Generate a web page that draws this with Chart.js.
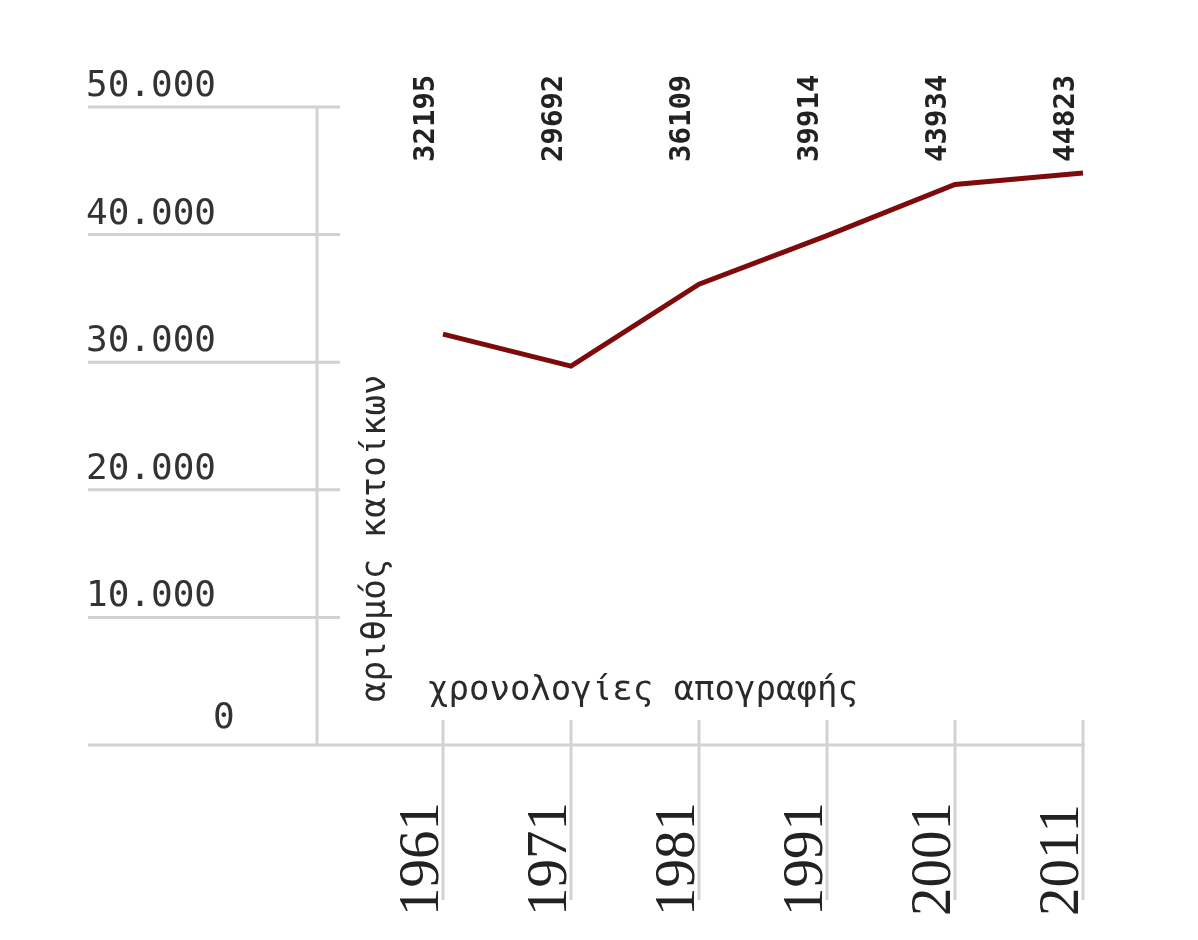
<!DOCTYPE html>
<html>
<head>
<meta charset="utf-8">
<script src="https://cdn.jsdelivr.net/npm/chart.js@4"></script>
<style>
html,body{margin:0;padding:0;background:#fff;}
#wrap{width:1198px;height:940px;}
</style>
</head>
<body>
<div id="wrap"><canvas id="c" width="1198" height="940"></canvas></div>
<script>
const years = ['1961','1971','1981','1991','2001','2011'];
const population = [32195, 29692, 36109, 39914, 43934, 44823];
const yTickValues = [0, 10000, 20000, 30000, 40000, 50000];
const yTickLabels = ['0', '10.000', '20.000', '30.000', '40.000', '50.000'];
const xTitle = 'χρονολογίες απογραφής';
const yTitle = 'αριθμός κατοίκων';

const GRID = '#d2d2d2';
const TEXT = '#333333';

const decor = {
  id: 'decor',
  beforeDatasetsDraw(chart) {
    const ctx = chart.ctx;
    const xs = chart.scales.x, ys = chart.scales.y;
    ctx.save();
    ctx.strokeStyle = GRID;
    ctx.lineWidth = 3;
    yTickValues.forEach(v => {
      const y = ys.getPixelForValue(v);
      ctx.beginPath();
      ctx.moveTo(88, y);
      ctx.lineTo(v === 0 ? xs.getPixelForValue(years.length - 1) + 2 : 340, y);
      ctx.stroke();
    });
    ctx.beginPath();
    ctx.moveTo(317, ys.getPixelForValue(50000));
    ctx.lineTo(317, ys.getPixelForValue(0));
    ctx.stroke();
    years.forEach((yr, i) => {
      const x = xs.getPixelForValue(i);
      ctx.beginPath();
      ctx.moveTo(x, ys.getPixelForValue(0) - 25);
      ctx.lineTo(x, ys.getPixelForValue(0) + 155);
      ctx.stroke();
    });
    ctx.fillStyle = TEXT;
    ctx.font = '36px "DejaVu Sans Mono"';
    ctx.textBaseline = 'alphabetic';
    yTickValues.forEach((v, i) => {
      const y = ys.getPixelForValue(v);
      ctx.textAlign = 'left';
      if (v === 0) ctx.fillText(yTickLabels[i], 213, y - 17);
      else ctx.fillText(yTickLabels[i], 86, y - 11);
    });
    ctx.font = '57px "Liberation Serif"';
    ctx.fillStyle = '#222';
    years.forEach((yr, i) => {
      const x = xs.getPixelForValue(i);
      ctx.save();
      ctx.translate(x - 5, ys.getPixelForValue(0) + 171);
      ctx.rotate(-Math.PI / 2);
      ctx.textAlign = 'left';
      ctx.fillText(yr, 0, 0);
      ctx.restore();
    });
    ctx.font = 'bold 29px "DejaVu Sans Mono"';
    ctx.fillStyle = '#222';
    population.forEach((v, i) => {
      const x = xs.getPixelForValue(i);
      ctx.save();
      ctx.translate(x - 9, 162);
      ctx.rotate(-Math.PI / 2);
      ctx.textAlign = 'left';
      ctx.fillText(String(v), 0, 0);
      ctx.restore();
    });
    ctx.font = '34px "DejaVu Sans Mono"';
    ctx.fillStyle = '#2a2a2a';
    ctx.textAlign = 'left';
    ctx.fillText(xTitle, 428, 700);
    ctx.save();
    ctx.translate(385, 702);
    ctx.rotate(-Math.PI / 2);
    ctx.fillText(yTitle, 0, 0);
    ctx.restore();
    ctx.restore();
  }
};

new Chart(document.getElementById('c'), {
  type: 'line',
  data: {
    labels: years,
    datasets: [{
      data: population,
      borderColor: '#7d0b0b',
      borderWidth: 5,
      pointRadius: 0,
      tension: 0,
      fill: false
    }]
  },
  options: {
    responsive: false,
    animation: false,
    devicePixelRatio: 1,
    layout: { padding: { left: 443, right: 115, top: 107, bottom: 195 } },
    plugins: { legend: { display: false }, tooltip: { enabled: false } },
    scales: {
      x: { type: 'category', offset: false, display: false },
      y: { type: 'linear', min: 0, max: 50000, display: false }
    }
  },
  plugins: [decor]
});
</script>
</body>
</html>
